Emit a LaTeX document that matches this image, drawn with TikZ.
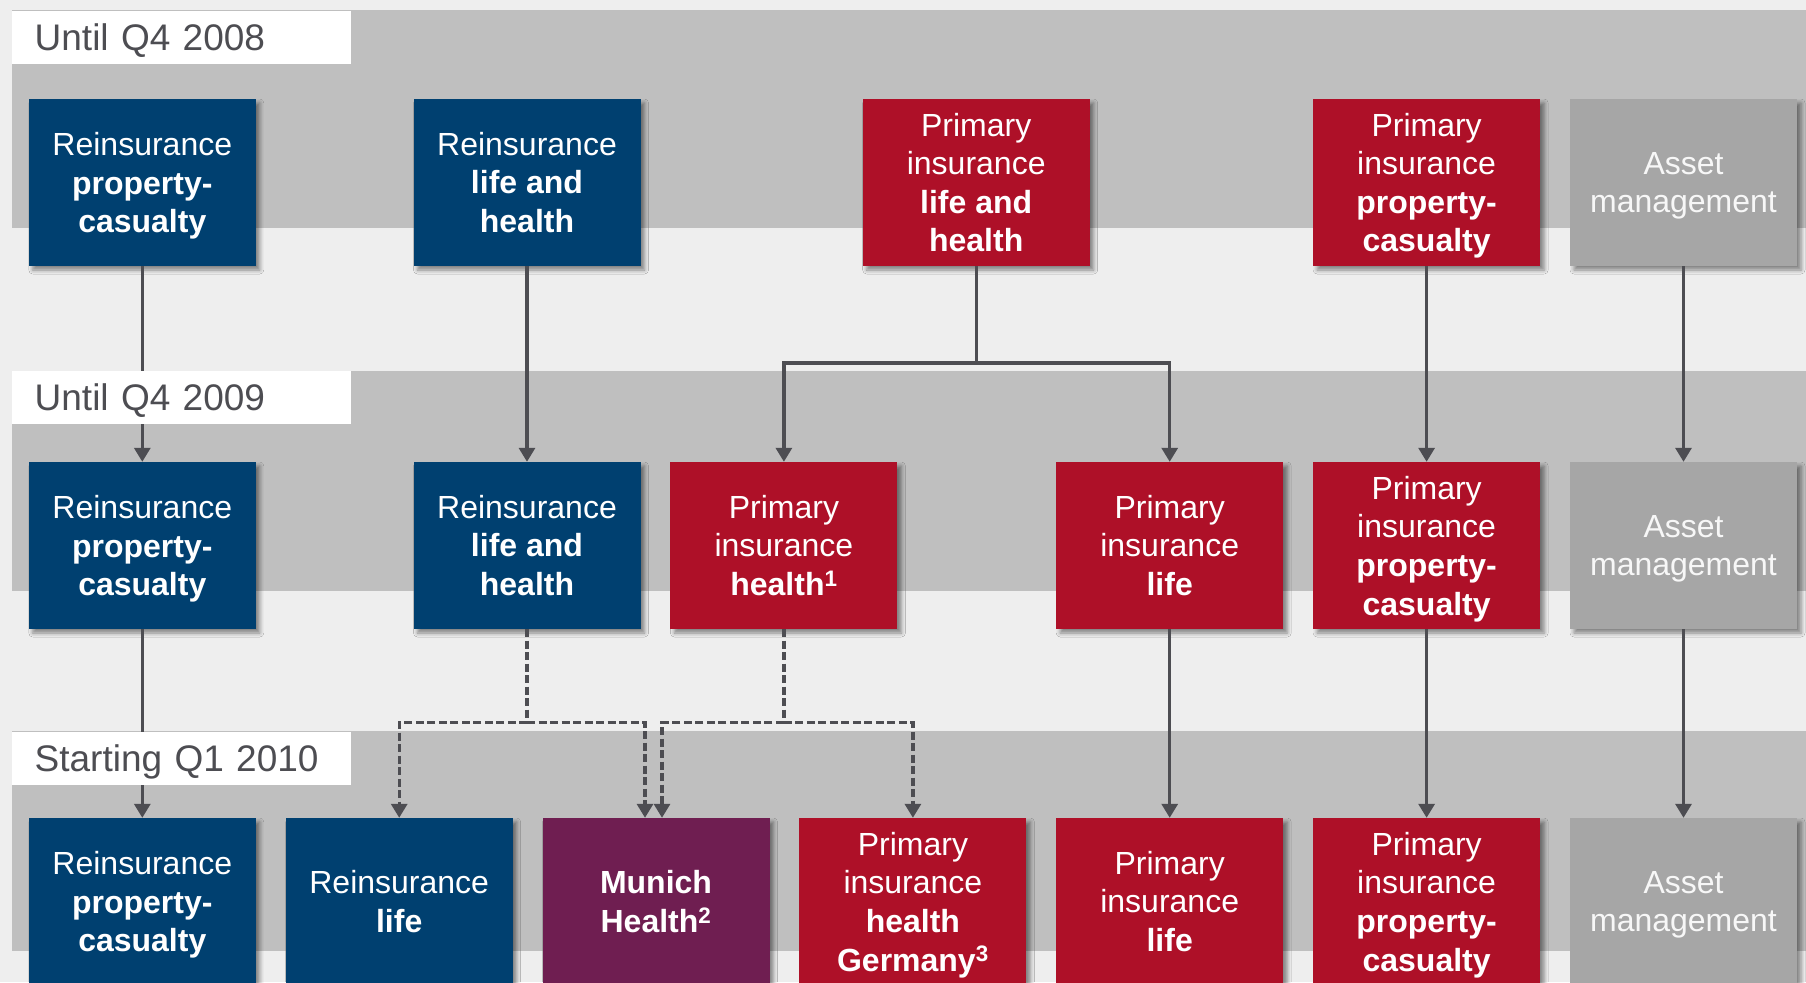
\documentclass[tikz,border=0pt]{standalone}
\usepackage{fontspec}
\setmainfont{Liberation Sans}
\usepackage{tikz}
\usetikzlibrary{arrows.meta}
\usetikzlibrary{shadows.blur}

\definecolor{mrblue}{RGB}{0,64,112}
\definecolor{mrred}{RGB}{174,16,40}
\definecolor{mrpurple}{RGB}{111,30,81}
\definecolor{mrgray}{RGB}{166,166,166}
\definecolor{bandgray}{RGB}{191,191,191}
\definecolor{backgray}{RGB}{238,238,238}
\definecolor{linegray}{RGB}{77,77,82}

% last line without descender depth, so the text sits centred
\newcommand{\nodepth}[1]{\raisebox{0pt}[\height][0pt]{#1}}

\begin{document}
\begin{tikzpicture}[x=1pt,y=-1pt,
    unit/.style={minimum width=227pt,minimum height=167pt,inner sep=0pt,align=center,
        text=white,font=\fontsize{32}{38.6}\selectfont,
        blur shadow={shadow xshift=4pt,shadow yshift=-4pt,shadow blur radius=4pt,shadow opacity=45}},
    reins/.style={unit,fill=mrblue},
    prim/.style={unit,fill=mrred},
    mhealth/.style={unit,fill=mrpurple},
    asset/.style={unit,fill=mrgray,text=white!94!gray},
    period/.style={fill=white,anchor=north west,minimum height=53pt,inner ysep=0pt,inner xsep=23pt,
        text width=293.5pt,text height=26.5pt,text depth=0pt,align=left,text=linegray,
        font=\fontsize{37}{44}\selectfont},
    link/.style={line width=3.2pt,draw=linegray,-{Triangle[width=16pt,length=14pt]}},
    later/.style={link,dash pattern=on 8pt off 3.5pt}]
                \clip (0,0) rectangle (1806,982);
                \fill[backgray] (0,0) rectangle (1806,982);
                \foreach \top/\bot in {10.4/228,371/591,731/951}
                    \fill[bandgray] (11.5,\top) rectangle (1806,\bot);

                % until Q4 2008
                \node[reins] (r1rpc) at (142.3,182.5) {Reinsurance\\\textbf{property-}\\\nodepth{\textbf{casualty}}};
                \node[reins] (r1rlh) at (527,182.5) {Reinsurance\\\textbf{life and}\\\textbf{health}};
                \node[prim] (r1plh) at (976.2,182.5) {Primary\\insurance\\\textbf{life and}\\\textbf{health}};
                \node[prim] (r1ppc) at (1426.6,182.5) {Primary\\insurance\\\textbf{property-}\\\nodepth{\textbf{casualty}}};
                \node[asset] (r1am) at (1683.5,182.5) {Asset\\\nodepth{management}};

                % until Q4 2009
                \node[reins] (r2rpc) at (142.3,545.5) {Reinsurance\\\textbf{property-}\\\nodepth{\textbf{casualty}}};
                \node[reins] (r2rlh) at (527,545.5) {Reinsurance\\\textbf{life and}\\\textbf{health}};
                \node[prim] (r2ph) at (783.9,545.5) {Primary\\insurance\\\textbf{health\textsuperscript{1}}};
                \node[prim] (r2pl) at (1169.7,545.5) {Primary\\insurance\\\textbf{life}};
                \node[prim] (r2ppc) at (1426.6,545.5) {Primary\\insurance\\\textbf{property-}\\\nodepth{\textbf{casualty}}};
                \node[asset] (r2am) at (1683.5,545.5) {Asset\\\nodepth{management}};

                % starting Q1 2010
                \node[reins] (r3rpc) at (142.3,901.5) {Reinsurance\\\textbf{property-}\\\nodepth{\textbf{casualty}}};
                \node[reins] (r3rl) at (399.2,901.5) {Reinsurance\\\textbf{life}};
                \node[mhealth] (r3mh) at (656,901.5) {\textbf{Munich}\\\textbf{Health\textsuperscript{2}}};
                \node[prim] (r3phg) at (912.9,901.5) {Primary\\insurance\\\textbf{health}\\\nodepth{\textbf{Germany\textsuperscript{3}}}};
                \node[prim] (r3pl) at (1169.7,901.5) {Primary\\insurance\\\textbf{life}};
                \node[prim] (r3ppc) at (1426.6,901.5) {Primary\\insurance\\\textbf{property-}\\\nodepth{\textbf{casualty}}};
                \node[asset] (r3am) at (1683.5,901.5) {Asset\\\nodepth{management}};

                % straight links
                \foreach \a/\b in {r1rpc/r2rpc,r1rlh/r2rlh,r1ppc/r2ppc,r1am/r2am,r2rpc/r3rpc,r2pl/r3pl,r2ppc/r3ppc,r2am/r3am}
                    \draw[link] (\a) -- (\b);

                % splits
                \coordinate (fork1) at (976.2,363);
                \coordinate (fork2) at (527,722.5);
                \coordinate (fork3) at (783.9,722.5);
                \draw[link,-] (r1plh) -- (fork1);
                \draw[link] (fork1) -| (r2ph);
                \draw[link] (fork1) -| (r2pl);
                \draw[later,-] (r2rlh) -- (fork2);
                \draw[later] (fork2) -| (r3rl);
                \draw[later] (fork2) -| ([xshift=-11pt]r3mh.north);
                \draw[later,-] (r2ph) -- (fork3);
                \draw[later] (fork3) -| ([xshift=6pt]r3mh.north);
                \draw[later] (fork3) -| (r3phg);

                % period labels
                \node[period] (p2008) at (11.5,10.4) {Until Q4 2008};
                \node[period] (p2009) at (11.5,371) {Until Q4 2009};
                \node[period] (p2010) at (11.5,731.5) {Starting Q1 2010};
            \end{tikzpicture}
\end{document}
